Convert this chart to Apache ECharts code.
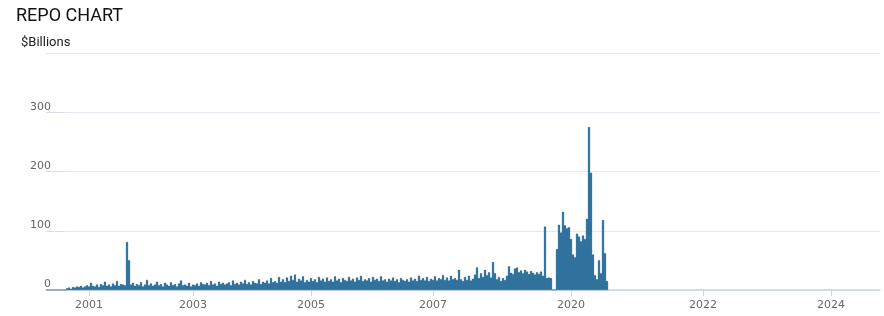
<!DOCTYPE html>
<html><head><meta charset="utf-8">
<script src="https://cdn.jsdelivr.net/npm/echarts@6/dist/echarts.min.js"></script>
<style>html,body{margin:0;padding:0;background:#fff}#c{width:884px;height:316px}</style>
</head><body><div id="c"></div>
<script>
// Number of periods on the category axis (each bar is one period)
const periodCount = 417;
// Category indices carrying a year label, and the labels themselves
const tickIndex = [21, 73, 132, 193, 262, 328, 392];
const tickLabels = ['2001', '2003', '2005', '2007', '2020', '2022', '2024'];
// Y axis ticks ($Billions)
const yTickValues = [0, 100, 200, 300, 400];

// Repo volumes ($Billions), one per period
const repoValues = [
  0, 0, 0, 0, 0, 0, 0, 0, 0, 0,
  3, 4, 2, 5, 4, 6, 5, 7, 4, 6,
  8, 6, 12, 7, 6, 9, 5, 10, 8, 14,
  7, 9, 6, 11, 8, 15, 7, 10, 9, 8,
  81, 50, 9, 12, 7, 10, 8, 13, 6, 9,
  17, 8, 11, 7, 9, 14, 8, 10, 6, 12,
  9, 7, 13, 8, 10, 6, 11, 16, 8, 9,
  7, 12, 6, 9, 8, 11, 7, 13, 10, 9,
  12, 8, 15, 9, 11, 7, 14, 10, 12, 9,
  11, 13, 8, 16, 10, 12, 9, 14, 11, 17,
  10, 13, 9, 15, 12, 11, 18, 10, 14, 12,
  16, 11, 20, 13, 15, 12, 22, 14, 18, 13,
  21, 15, 24, 17, 26, 14, 19, 16, 23, 13,
  17, 14, 20, 15, 18, 13, 22, 16, 19, 14,
  21, 15, 18, 14, 23, 16, 19, 13, 20, 17,
  15, 22, 16, 19, 14, 21, 17, 24, 15, 18,
  16, 20, 14, 22, 17, 19, 15, 23, 16, 18,
  14, 19, 16, 21, 15, 18, 13, 20, 17, 15,
  18, 14, 21, 16, 19, 15, 24, 17, 20, 16,
  22, 15, 19, 17, 23, 16, 20, 18, 25, 17,
  21, 16, 24, 18, 20, 17, 34, 18, 15, 22,
  17, 24, 16, 19, 26, 38, 20, 28, 22, 34,
  25, 30, 21, 47, 28, 18, 22, 15, 20, 17,
  24, 40, 29, 27, 36, 38, 30, 33, 28, 34,
  31, 27, 32, 29, 26, 30, 27, 31, 24, 107,
  20, 21, 20, 0, 0,
  69, 110, 97, 132, 109, 104, 106, 86, 60, 55,
  95, 90, 82, 92, 86, 120, 275, 198, 60, 25,
  18, 50, 28, 118, 62, 15
];

const categories = [];
for (let i = 0; i < periodCount; i++) {
  const k = tickIndex.indexOf(i);
  categories.push(k >= 0 ? tickLabels[k] : 'p' + i);
}
const isTick = (idx) => tickIndex.indexOf(idx) >= 0;

const chart = echarts.init(document.getElementById('c'), null, { renderer: 'canvas' });
chart.setOption({
  animation: false,
  backgroundColor: '#ffffff',
  title: [
    { text: 'REPO CHART', left: 11, top: 2,
      textStyle: { fontFamily: 'Roboto', fontSize: 18, fontWeight: 'normal', color: '#111' } },
    { text: '$Billions', left: 16, top: 31,
      textStyle: { fontFamily: 'Roboto', fontSize: 13, fontWeight: 'normal', color: '#222' } }
  ],
  grid: { left: 46, right: 4, top: 53, bottom: 26, containLabel: false },
  xAxis: {
    type: 'category',
    data: categories,
    boundaryGap: true,
    axisLine: { show: true, lineStyle: { color: '#c8d2e6', width: 1.5 } },
    axisTick: { show: true, interval: (idx) => isTick(idx), alignWithLabel: true, length: 6,
      lineStyle: { color: '#ccd6eb' } },
    axisLabel: { interval: (idx) => isTick(idx), margin: 10, color: '#666',
      fontFamily: 'DejaVu Sans', fontSize: 11 },
    splitLine: { show: false }
  },
  yAxis: {
    type: 'value',
    min: yTickValues[0],
    max: yTickValues[yTickValues.length - 1],
    interval: yTickValues[1] - yTickValues[0],
    axisLine: { show: false },
    axisTick: { show: true, inside: true, length: 19, lineStyle: { color: '#d8deea' } },
    axisLabel: { color: '#666', fontFamily: 'DejaVu Sans', fontSize: 11, showMaxLabel: false,
      formatter: (v) => (v === yTickValues[yTickValues.length - 1] ? '' : String(v)),
      verticalAlign: 'bottom', margin: -5, padding: [0, 0, 0, 0] },
    splitLine: { show: true, lineStyle: { color: '#e6e9ef', width: 1 } }
  },
  series: [{
    type: 'bar',
    data: repoValues,
    barCategoryGap: '0%',
    barGap: '0%',
    itemStyle: { color: '#135f90', borderColor: '#135f90', borderWidth: 0.4 },
    silent: true
  }]
});
</script>
</body></html>
